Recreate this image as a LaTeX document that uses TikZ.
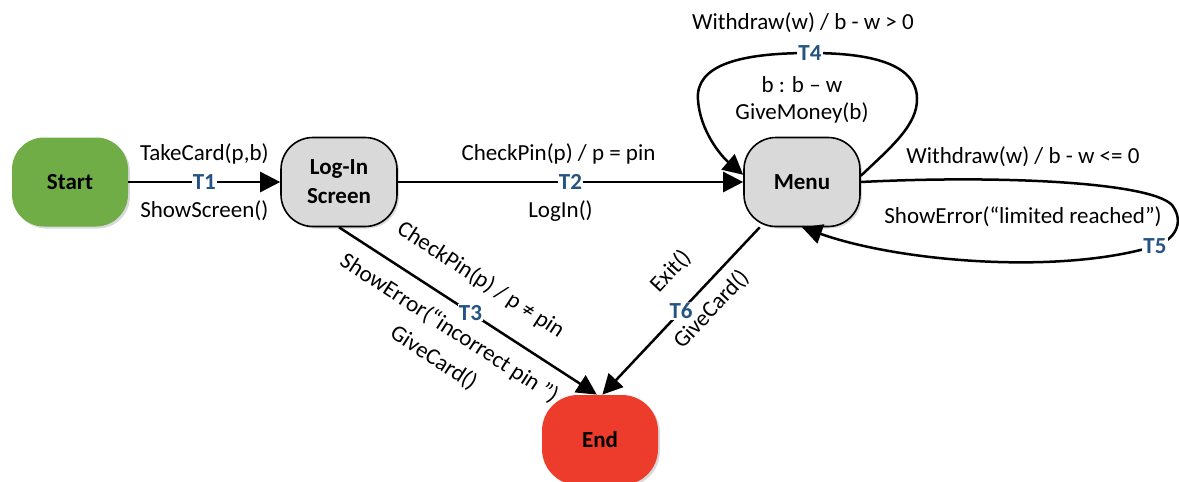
\documentclass[tikz,border=0pt]{standalone}
\usepackage{fontspec}
\setmainfont{Carlito}
\usetikzlibrary{arrows.meta,shadows}
\definecolor{startgreen}{RGB}{112,173,71}
\definecolor{endred}{RGB}{238,60,44}
\definecolor{stategray}{RGB}{217,217,217}
\definecolor{tblue}{RGB}{37,84,130}
\begin{document}
\begin{tikzpicture}[x=0.5pt,y=-0.5pt,
  font=\fontsize{11.5}{14}\selectfont,
  state/.style={rounded corners=16pt, minimum width=58pt, minimum height=44.5pt,
    align=center, inner sep=0pt, font=\fontsize{11.5}{14.5}\selectfont\bfseries,
    drop shadow={shadow xshift=1pt, shadow yshift=-1pt, opacity=0.3}},
  arr/.style={line width=1.25pt, -{Triangle[length=10pt,width=10pt]}},
  tlab/.style={font=\fontsize{11.5}{13}\selectfont\bfseries, text=tblue, fill=white, inner sep=0.6pt},
  lab/.style={inner sep=0pt}]
\useasboundingbox (0,0) rectangle (1179,482);

\node[state, fill=startgreen] (start) at (70,182) {Start};
\node[state, fill=stategray, draw=black, line width=0.8pt] (login) at (339,182) {Log-In\\Screen};
\node[state, fill=stategray, draw=black, line width=0.8pt] (menu) at (802,182) {Menu};
\node[state, fill=endred, minimum height=45pt, rounded corners=18pt] (fin) at (600,440) {End};

% T1
\draw[arr] (start.east) -- node[tlab]{T1}
  node[lab, yshift=14pt]{TakeCard(p,b)}
  node[lab, yshift=-14.5pt]{ShowScreen()} (login.west);

% T2
\draw[arr] (login.east) -- node[tlab]{T2}
  node[lab, yshift=14pt, xshift=-6pt]{CheckPin(p) / p = pin}
  node[lab, yshift=-14.5pt, xshift=-5pt]{LogIn()} (menu.west);

% T3
\draw[arr] (login.south) -- node[tlab, pos=0.51]{T3}
  node[lab, sloped, pos=0.48, yshift=16.5pt]{CheckPin(p) / p ≠ pin}
  node[lab, sloped, pos=0.48, yshift=-12.5pt]{ShowError(“incorrect pin ”)}
  node[lab, sloped, pos=0.49, yshift=-29pt]{GiveCard()} (fin.94);

% T6
\draw[arr] (menu.227) -- node[tlab, pos=0.5]{T6}
  node[lab, sloped, pos=0.405, yshift=17.5pt]{Exit()}
  node[lab, sloped, pos=0.405, yshift=-10.5pt]{GiveCard()} (fin.87);

% T4
\draw[arr] (menu.6) .. controls (890,148) and (918,125) .. (917,98)
  .. controls (916,60) and (860,53) .. (810,53) node[tlab]{T4}
  .. controls (740,53) and (695,65) .. (698,100)
  .. controls (700,130) and (720,155) .. (menu.173);
\node[lab] (t4a) at (803,23) {Withdraw(w) / b - w > 0};
\node[lab] (t4b) at (802,85) {b : b – w};
\node[lab] (t4c) at (802,113) {GiveMoney(b)};

% T5
\draw[arr] (menu.east) .. controls (1000,175) and (1150,182) .. (1172,205)
  .. controls (1185,222) and (1175,240) .. (1155,246) node[tlab]{T5}
  .. controls (1060,275) and (900,262) .. (menu.south);
\node[lab] (t5a) at (1023,157) {Withdraw(w) / b - w <= 0};
\node[lab] (t5b) at (1023,217) {ShowError(“limited reached”)};
\end{tikzpicture}
\end{document}
